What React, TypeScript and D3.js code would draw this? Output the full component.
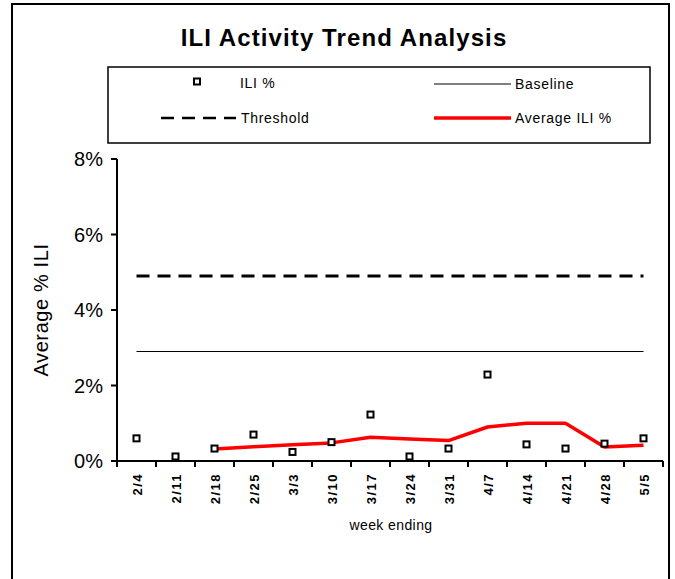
import React from "react";
import * as d3 from "d3";

const weeks = ["2/4","2/11","2/18","2/25","3/3","3/10","3/17","3/24","3/31","4/7","4/14","4/21","4/28","5/5"];
const iliPct = [0.60,0.12,0.33,0.70,0.24,0.50,1.23,0.12,0.33,2.29,0.44,0.33,0.46,0.60];
const avgIli = [null,null,0.32,0.38,0.43,0.48,0.63,0.58,0.54,0.90,1.00,1.00,0.37,0.42];
const baseline = 2.9;
const threshold = 4.9;
const yTicks = [0,2,4,6,8];

const W = 675, H = 579;
const left = 117, right = 663, top = 159, bottom = 461;
const FONT = "'Liberation Sans', Arial, sans-serif";

export default function App() {
  const x = d3.scaleBand<string>().domain(weeks).range([left, right]);
  const y = d3.scaleLinear().domain([0, 8]).range([bottom, top]);
  const cx = (w: string) => (x(w) as number) + x.bandwidth() / 2;
  const avgLine = d3.line<number | null>()
    .defined(d => d != null)
    .x((_, i) => cx(weeks[i]))
    .y(d => y(d as number))(avgIli as any) || "";
  const x0 = cx(weeks[0]), x1 = cx(weeks[weeks.length - 1]);
  const boundaries = weeks.map(w => x(w) as number).concat([right]);

  return (
    <svg width={W} height={H} style={{ position: "absolute", left: 0, top: 0, background: "#fff" }} fontFamily={FONT}>
      <rect x={0} y={0} width={W} height={H} fill="#fff" />
      <rect x={12} y={4} width={657} height={600} fill="none" stroke="#000" strokeWidth={2} />
      <text x={344} y={46} textAnchor="middle" fontSize={24} fontWeight="bold" letterSpacing={1.1}>ILI Activity Trend Analysis</text>

      {/* legend */}
      <rect x={108} y={67} width={542} height={76} fill="#fff" stroke="#000" strokeWidth={1.5} />
      <rect x={194} y={78.5} width={6} height={6} fill="#fff" stroke="#000" strokeWidth={2} />
      <text x={240} y={88} fontSize={14} letterSpacing={0.7}>ILI %</text>
      <line x1={434} x2={511} y1={84} y2={84} stroke="#000" strokeWidth={1} />
      <text x={515} y={89} fontSize={14} letterSpacing={0.7}>Baseline</text>
      <line x1={161} x2={236} y1={118} y2={118} stroke="#000" strokeWidth={2.5} strokeDasharray="13,8" />
      <text x={241} y={123} fontSize={14} letterSpacing={0.7}>Threshold</text>
      <line x1={434} x2={511} y1={118} y2={118} stroke="#ff0000" strokeWidth={3.5} />
      <text x={515} y={123} fontSize={14} letterSpacing={0.7}>Average ILI %</text>

      {/* y axis */}
      <line x1={left} x2={left} y1={top} y2={bottom} stroke="#000" strokeWidth={2} />
      {yTicks.map(t => (
        <g key={t}>
          <line x1={left - 6} x2={left} y1={y(t)} y2={y(t)} stroke="#000" strokeWidth={2} />
          <text x={103} y={y(t) + 7} textAnchor="end" fontSize={20}>{t}%</text>
        </g>
      ))}
      <text transform={`translate(48,${(top + bottom) / 2}) rotate(-90)`} textAnchor="middle" fontSize={20} letterSpacing={0.6}>Average % ILI</text>

      {/* x axis */}
      <line x1={left} x2={right} y1={bottom} y2={bottom} stroke="#000" strokeWidth={2} />
      {boundaries.map((b, i) => (
        <line key={i} x1={b} x2={b} y1={bottom} y2={bottom + 6} stroke="#000" strokeWidth={2} />
      ))}
      {weeks.map(w => (
        <text key={w} transform={`translate(${cx(w) + 5},${473}) rotate(-90)`} textAnchor="end" fontSize={13} fontWeight="600" letterSpacing={1.5}>{w}</text>
      ))}
      <text x={391} y={530} textAnchor="middle" fontSize={14} letterSpacing={0.4}>week ending</text>

      {/* reference lines */}
      <line x1={x0} x2={x1} y1={y(baseline)} y2={y(baseline)} stroke="#000" strokeWidth={1} />
      <line x1={x0} x2={x1} y1={y(threshold)} y2={y(threshold)} stroke="#000" strokeWidth={3} strokeDasharray="13,8" />

      {/* average line */}
      <path d={avgLine} fill="none" stroke="#ff0000" strokeWidth={3.5} strokeLinejoin="round" />

      {/* ILI points */}
      {iliPct.map((v, i) => (
        <rect key={i} x={cx(weeks[i]) - 3} y={y(v) - 3} width={6} height={6} fill="#fff" stroke="#000" strokeWidth={2} />
      ))}
    </svg>
  );
}
